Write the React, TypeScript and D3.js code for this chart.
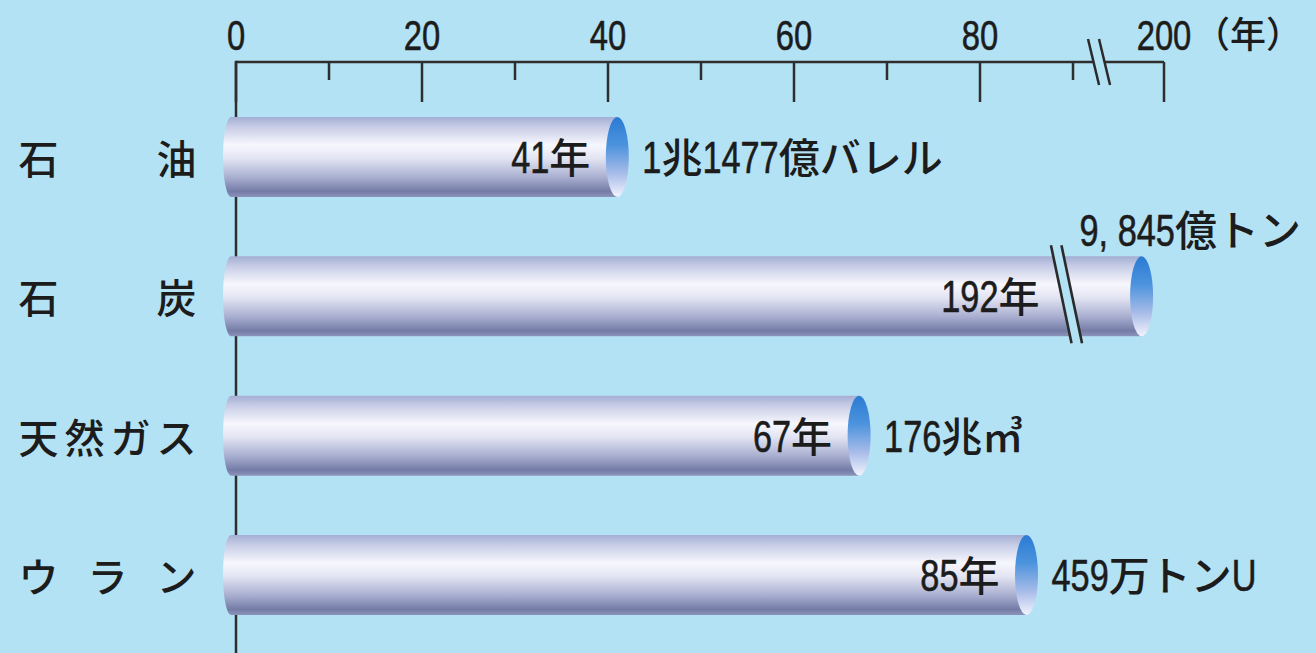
import React from "react";
import * as d3 from "d3";

const W = 1316;
const H = 653;

// Resources and their reserves-to-production ratios (years)
const resources = ["石油", "石炭", "天然ガス", "ウラン"];
const years = [41, 192, 67, 85];
const reserves = ["1兆1477億バレル", "9, 845億トン", "176兆㎥", "459万トンU"];

// Axis ticks
const majorTicks = [0, 20, 40, 60, 80, 200];
const minorTicks = [10, 30, 50, 70, 90];
const axisUnit = "（年）";

const BG = "#b4e2f5";
const INK = "#1c1c1c";
const LATIN = "'Liberation Sans', Arial, sans-serif";
const CJK = "'Noto Sans CJK JP', 'Noto Sans', sans-serif";
const CONDENSE = 0.78; // horizontal squeeze for the narrow digit face

const AXIS_Y = 62;
const BAR_H = 80;

// Broken scale: linear up to 90, compressed tail that ends at 200
const x = d3.scaleLinear().domain([0, 90, 180, 200]).range([236, 1073, 1108, 1164]);
// Unbroken reference scale for placing the break symbols
const xLin = d3.scaleLinear().domain([0, 100]).range([236, 1166]);
const y = d3.scalePoint<string>().domain(resources).range([157, 575]);

// Advance widths (em) of the Latin glyphs used, Liberation Sans metrics
const LATIN_ADV: Record<string, number> = {
  "0": 0.556, "1": 0.556, "2": 0.556, "3": 0.556, "4": 0.556,
  "5": 0.556, "6": 0.556, "7": 0.556, "8": 0.556, "9": 0.556,
  ",": 0.278, ".": 0.278, " ": 0.278, U: 0.722,
};

function runs(s: string) {
  const out: { t: string; latin: boolean }[] = [];
  for (const ch of s) {
    const a = ch in LATIN_ADV;
    const last = out[out.length - 1];
    if (last && last.latin === a) last.t += ch;
    else out.push({ t: ch, latin: a });
  }
  return out;
}

function runWidth(r: { t: string; latin: boolean }, digitSize: number, kanjiSize: number) {
  if (r.latin) return Array.from(r.t).reduce((s, c) => s + LATIN_ADV[c], 0) * digitSize * CONDENSE;
  return Array.from(r.t).length * kanjiSize;
}

// Mixed Latin/Japanese label: condensed digits, full-width kana/kanji
function MixedText(props: {
  x: number;
  y: number;
  s: string;
  anchor?: "start" | "middle" | "end";
  digitSize: number;
  kanjiSize: number;
}) {
  const { x: tx, y: ty, s, anchor = "start", digitSize, kanjiSize } = props;
  const rs = runs(s);
  const widths = rs.map((r) => runWidth(r, digitSize, kanjiSize));
  const total = d3.sum(widths);
  let px = anchor === "end" ? tx - total : anchor === "middle" ? tx - total / 2 : tx;
  const parts = rs.map((r, i) => {
    const at = px;
    px += widths[i];
    return r.latin ? (
      <text
        key={i}
        transform={`translate(${at},${ty}) scale(${CONDENSE},1)`}
        fontFamily={LATIN}
        fontSize={digitSize}
        fill={INK}
        stroke={INK}
        strokeWidth={0.6}
        style={{ whiteSpace: "pre" }}
      >
        {r.t}
      </text>
    ) : (
      <text key={i} x={at} y={ty} fontFamily={CJK} fontWeight={500} fontSize={kanjiSize} fill={INK}>
        {r.t}
      </text>
    );
  });
  return <g>{parts}</g>;
}

// Slanted double-line break symbol, filled with background between the lines
function BreakMark(props: { cx: number; cy: number; half: number; gap: number; slope: number; width?: number }) {
  const { cx, cy, half, gap, slope, width = 2.5 } = props;
  const dx = half * slope;
  const l1 = [cx - gap / 2 - dx, cy - half, cx - gap / 2 + dx, cy + half];
  const l2 = [cx + gap / 2 - dx, cy - half, cx + gap / 2 + dx, cy + half];
  const poly = `${l1[0]},${l1[1]} ${l2[0]},${l2[1]} ${l2[2]},${l2[3]} ${l1[2]},${l1[3]}`;
  return (
    <g>
      <polygon points={poly} fill={BG} />
      <line x1={l1[0]} y1={l1[1]} x2={l1[2]} y2={l1[3]} stroke="#2a2a2a" strokeWidth={width} />
      <line x1={l2[0]} y1={l2[1]} x2={l2[2]} y2={l2[3]} stroke="#2a2a2a" strokeWidth={width} />
    </g>
  );
}

function CategoryLabel(props: { text: string; cy: number }) {
  const chars = Array.from(props.text);
  const first = 38.5;
  const last = 176.5;
  const pos = chars.map((_, i) => (chars.length === 1 ? first : first + (i * (last - first)) / (chars.length - 1)));
  return (
    <text fontFamily={CJK} fontWeight={500} fontSize={40} fill={INK} textAnchor="middle" dominantBaseline="central">
      {chars.map((c, i) => (
        <tspan key={i} x={pos[i]} y={props.cy}>
          {c}
        </tspan>
      ))}
    </text>
  );
}

export default function App() {
  const axisBreakX = xLin(92.8);
  const barBreakX = xLin(89.3);
  const barLeft = 223;
  const curve = 8;

  return (
    <div style={{ position: "fixed", left: 0, top: 0, width: W, height: H }}>
      <svg width={W} height={H} viewBox={`0 0 ${W} ${H}`} style={{ display: "block" }}>
        <defs>
          <linearGradient id="barBody" x1="0" y1="0" x2="0" y2="1">
            <stop offset="0" stopColor="#a4aed3" />
            <stop offset="0.12" stopColor="#c6cce6" />
            <stop offset="0.35" stopColor="#f7f7fd" />
            <stop offset="0.52" stopColor="#e2e4f2" />
            <stop offset="0.76" stopColor="#a7adcf" />
            <stop offset="0.93" stopColor="#747ca6" />
            <stop offset="1" stopColor="#8d94bb" />
          </linearGradient>
          <linearGradient id="barCap" x1="0" y1="0" x2="0" y2="1">
            <stop offset="0" stopColor="#2a7bd3" />
            <stop offset="0.35" stopColor="#4c93dd" />
            <stop offset="0.7" stopColor="#a6bbe8" />
            <stop offset="1" stopColor="#f2f3fd" />
          </linearGradient>
        </defs>

        <rect x={0} y={0} width={W} height={H} fill={BG} />

        {/* value axis */}
        <line x1={x(0)} y1={AXIS_Y} x2={x(200)} y2={AXIS_Y} stroke="#2e2e2e" strokeWidth={2.5} />
        <line x1={x(0)} y1={AXIS_Y - 1.25} x2={x(0)} y2={H} stroke="#2e2e2e" strokeWidth={2.5} />
        {majorTicks.map((t) => (
          <g key={`M${t}`}>
            <line x1={x(t)} y1={AXIS_Y} x2={x(t)} y2={AXIS_Y + 40} stroke="#2e2e2e" strokeWidth={2.5} />
            <MixedText x={x(t)} y={50} s={String(t)} anchor="middle" digitSize={42} kanjiSize={36} />
          </g>
        ))}
        {minorTicks.map((t) => (
          <line key={`m${t}`} x1={x(t)} y1={AXIS_Y} x2={x(t)} y2={AXIS_Y + 18} stroke="#2e2e2e" strokeWidth={2.5} />
        ))}
        <text x={x(200) + 30} y={48} fontFamily={CJK} fontWeight={500} fontSize={36} fill={INK}>
          {axisUnit}
        </text>
        <BreakMark cx={axisBreakX} cy={AXIS_Y} half={23} gap={11} slope={0.24} />

        {/* cylinders */}
        {resources.map((r, i) => {
          const cy = y(r)!;
          const top = cy - BAR_H / 2;
          const bot = cy + BAR_H / 2;
          const xe = x(years[i]);
          const body = `M${barLeft + curve},${top} L${xe},${top} L${xe},${bot} L${barLeft + curve},${bot} A${curve},${BAR_H / 2} 0 0 1 ${barLeft + curve},${top} Z`;
          const broken = years[i] > 90;
          const labelRight = broken ? barBreakX - 27 : xe - 27;
          return (
            <g key={r}>
              <path d={body} fill="url(#barBody)" />
              <ellipse cx={xe} cy={cy} rx={11.5} ry={BAR_H / 2} fill="url(#barCap)" />
              {broken && <BreakMark cx={barBreakX} cy={cy - 2} half={49} gap={10.5} slope={0.21} width={2.6} />}
              <MixedText x={labelRight} y={cy + 16} s={`${years[i]}年`} anchor="end" digitSize={44} kanjiSize={41} />
              {broken ? (
                <MixedText x={barBreakX + 13} y={cy - 50} s={reserves[i]} digitSize={44} kanjiSize={42} />
              ) : (
                <MixedText x={xe + 25} y={cy + 16} s={reserves[i]} digitSize={44} kanjiSize={41} />
              )}
              <CategoryLabel text={r} cy={cy} />
            </g>
          );
        })}
      </svg>
    </div>
  );
}
